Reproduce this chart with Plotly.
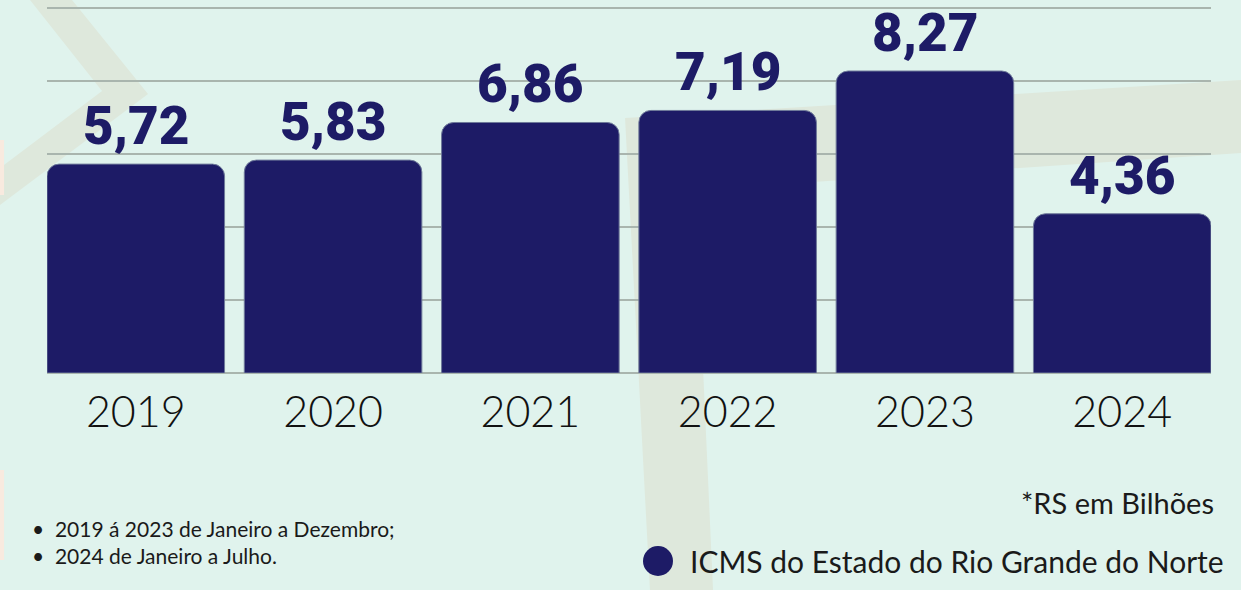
import plotly.graph_objects as go

years = ["2019", "2020", "2021", "2022", "2023", "2024"]
icms = [5.72, 5.83, 6.86, 7.19, 8.27, 4.36]
value_labels = [f"{v:.2f}".replace(".", ",") for v in icms]
notes = ["2019 á 2023 de Janeiro a Dezembro;", "2024 de Janeiro a Julho."]
unit_note = "*RS em Bilhões"
series_name = "ICMS do Estado do Rio Grande do Norte"

W, H = 1241, 590
L, R, T, B = 47, 30, 6, 217
NAVY = "#1d1b66"
MINT = "#e0f3ed"
BAND = "#dee8dc"


def px(x, y):
    # pixel position -> paper coords
    return (x - L) / (W - L - R), (H - B - y) / (H - B - T)


def poly(points):
    pts = [px(x, y) for x, y in points]
    return "M " + " L ".join(f"{a:.4f},{b:.4f}" for a, b in pts) + " Z"


def deco(points, color):
    return dict(type="path", xref="paper", yref="paper", path=poly(points),
                fillcolor=color, line=dict(width=0), layer="below")


fig = go.Figure(go.Bar(
    x=years,
    y=icms,
    marker=dict(color=NAVY, cornerradius=12, line=dict(color="#6f7a9a", width=1)),
    showlegend=False,
    hoverinfo="x+y",
))

# value labels above the bars (x as category index, "2019" would be read as a number)
for i, (v, t) in enumerate(zip(icms, value_labels)):
    fig.add_annotation(x=i, y=v, text=t, showarrow=False, yanchor="bottom", yshift=5,
                       font=dict(family="Roboto", size=53, color=NAVY, weight=900))

shapes = [
    # faint background bands
    deco([(30, 0), (72, 0), (148, 94), (0, 205), (0, 168), (102, 91)], BAND),
    deco([(625, 118), (1241, 80), (1241, 153), (695, 190), (713, 590), (650, 590)], BAND),
    deco([(0, 140), (4, 140), (4, 195), (0, 195)], "#f8eadf"),
    deco([(0, 470), (4, 470), (4, 560), (0, 560)], "#f8eadf"),
]
# legend dot
x0, y0 = px(643, 576)
x1, y1 = px(673, 546)
shapes.append(dict(type="circle", xref="paper", yref="paper", x0=x0, y0=y0, x1=x1, y1=y1,
                   fillcolor=NAVY, line=dict(width=0)))

for i, n in enumerate(notes):
    xa, ya = px(30, 528 + 27 * i)
    fig.add_annotation(x=xa, y=ya, xref="paper", yref="paper", text="•  " + n, showarrow=False,
                       xanchor="left", yanchor="middle",
                       font=dict(family="Lato", size=21, color="#1a1a1a"))

xa, ya = px(1216, 502)
fig.add_annotation(x=xa, y=ya, xref="paper", yref="paper", text=unit_note, showarrow=False,
                   xanchor="right", yanchor="middle", font=dict(family="Lato", size=29, color="#1a1a1a"))
xa, ya = px(688, 561)
fig.add_annotation(x=xa, y=ya, xref="paper", yref="paper", text=series_name, showarrow=False,
                   xanchor="left", yanchor="middle", font=dict(family="Lato", size=30, color="#1a1a1a"))

fig.update_layout(
    width=W, height=H,
    margin=dict(l=L, r=R, t=T, b=B),
    paper_bgcolor=MINT,
    plot_bgcolor="rgba(0,0,0,0)",
    bargap=0.1,
    shapes=shapes,
    xaxis=dict(type="category", range=[-0.45, 5.45], showgrid=False, ticks="", ticklabelstandoff=10,
               tickfont=dict(family="Lato", size=43, color="#111111", weight=300)),
    yaxis=dict(range=[0, 10.05], dtick=2, showticklabels=False, gridcolor="#a9b5ae", gridwidth=2,
               zeroline=True, zerolinecolor="#a9b5ae", zerolinewidth=2),
)

fig.write_html("out.html", config={"displayModeBar": False},
               post_script="document.body.style.margin='0';")
